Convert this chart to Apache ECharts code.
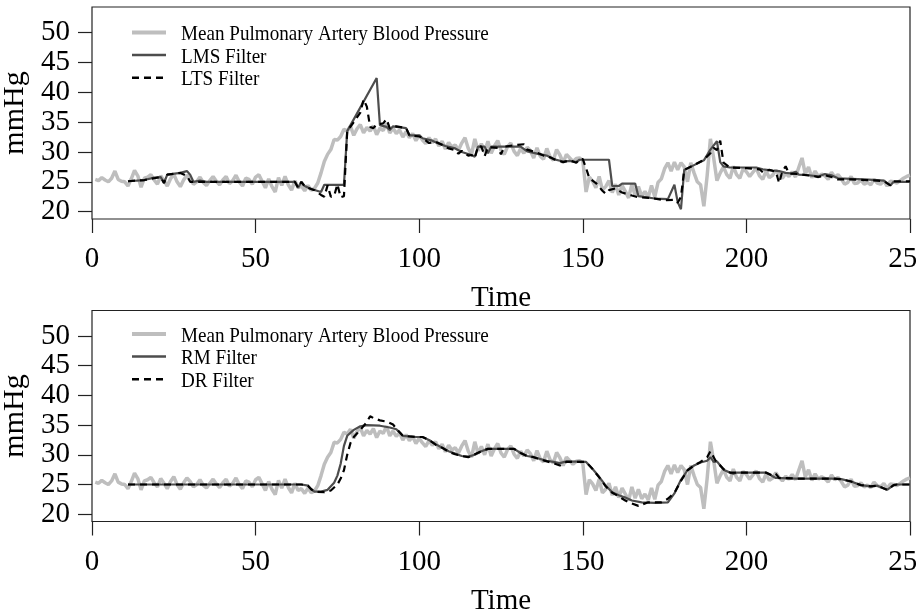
<!DOCTYPE html>
<html>
<head>
<meta charset="utf-8">
<script src="https://cdn.jsdelivr.net/npm/echarts@6/dist/echarts.min.js"></script>
<style>
  html, body { margin: 0; padding: 0; background: #fff; }
  #chart { width: 916px; height: 614px; }
</style>
</head>
<body>
<div id="chart"></div>
<script>
// Mean pulmonary artery blood pressure, one sample per time step (t = 1..250)
const pressure = [
  25.4, 25.2, 25.7, 25.3, 25.0, 25.6, 26.8, 25.4, 25.1, 25.0,
  24.3, 25.5, 26.9, 26.0, 24.1, 25.6, 25.8, 26.2, 25.3, 24.6,
  26.0, 25.2, 24.3, 25.5, 26.3, 25.0, 24.2, 25.3, 26.1, 25.5,
  24.6, 25.0, 25.8, 24.9, 24.4, 25.2, 25.9, 25.1, 24.5, 25.3,
  25.9, 24.7, 25.2, 26.1, 25.0, 24.3, 25.6, 25.4, 24.6, 25.8,
  26.2, 25.1, 24.0, 25.5, 24.2, 23.3, 25.7, 24.4, 25.9, 24.5,
  23.6, 25.2, 24.0, 24.3, 23.5, 24.4, 23.6, 23.9, 24.8, 26.5,
  28.4, 29.6, 30.4, 32.1, 32.0, 32.6, 33.8, 33.5, 34.3, 32.8,
  33.9, 34.6, 33.2, 34.1, 33.5, 34.4, 32.9, 34.0, 33.6, 34.8,
  33.2, 34.0, 33.1, 33.7, 32.5, 33.4, 32.4, 33.1, 31.9, 32.8,
  32.0, 31.4, 32.4, 31.6, 32.2, 31.0, 31.8, 30.5, 31.6, 30.8,
  31.2, 30.3, 31.5, 32.4, 30.6, 29.6, 32.2, 30.2, 31.4, 30.0,
  31.8, 29.8, 31.0, 31.9, 30.3, 29.6, 30.9, 31.5, 30.1, 29.4,
  30.6, 29.8, 30.8, 30.2, 29.0, 30.7, 29.3, 28.8, 30.6, 29.2,
  28.6, 30.4, 29.5, 28.2, 29.6, 29.0, 28.4, 28.9, 29.0, 28.6,
  23.3, 25.8, 25.1, 24.0, 25.9, 23.6, 24.2, 25.2, 23.2, 24.6,
  22.8, 24.4, 23.4, 22.3, 24.6, 22.7, 24.2, 22.6, 23.4, 22.4,
  24.4, 22.5, 24.9, 25.5, 27.2, 28.2, 26.8, 28.3, 27.0, 28.2,
  27.5, 25.0, 28.2, 26.5, 25.0, 24.5, 20.9, 26.0, 32.2, 29.0,
  25.2, 26.5, 27.5, 26.2, 25.6, 27.6, 26.2, 25.6, 27.2, 26.7,
  25.9, 26.6, 27.3, 26.0, 25.4, 26.8, 25.7, 26.1, 27.0, 26.2,
  25.6, 26.4, 25.9, 26.7, 25.8, 27.4, 29.0, 26.3, 27.5, 25.7,
  26.8, 25.9, 26.3, 26.0, 25.4, 26.6, 25.8, 26.2, 25.5, 24.6,
  24.9, 25.9, 24.7, 24.8, 25.3, 24.6, 24.9, 24.5, 25.4, 24.8,
  24.6, 25.2, 24.3, 25.1, 25.0, 24.8, 25.2, 25.6, 25.9, 26.1
];

// Filter outputs as [time, mmHg] vertices
const lmsFilter = [
  [11,25.1],[16,25.3],[19,25.7],[21,25.8],[22,24.8],[23,26.2],[27,26.5],[29,26.8],[30,26.2],[31,25.0],
  [33,25.2],[35,25.0],[62,25.0],[63,24.0],[64,25.0],[65,24.3],[67,23.8],[70,23.3],[71,24.5],[77,24.5],
  [78,33.5],[87,42.4],[88,34.5],[90,34.2],[91,33.7],[92,34.3],[96,34.0],[97,32.8],[100,32.8],[101,32.3],
  [104,31.9],[106,31.4],[108,31.0],[111,30.6],[113,30.0],[116,29.5],[117,29.2],[118,30.9],[120,30.9],[121,29.8],
  [122,30.9],[131,30.9],[133,30.1],[137,29.6],[139,29.4],[141,28.8],[144,28.4],[146,28.5],[148,28.3],[149,28.7],
  [158,28.7],[159,24.3],[161,24.3],[162,24.7],[166,24.7],[167,22.6],[172,22.2],[176,22.1],[178,24.5],[179,21.6],
  [180,20.4],[181,27.0],[184,27.8],[187,28.6],[189,30.4],[191,31.8],[192,28.3],[193,27.6],[195,27.4],[203,27.4],
  [205,27.1],[208,26.9],[210,26.8],[212,26.5],[214,26.4],[215,26.7],[216,26.2],[219,26.1],[222,25.9],[224,26.3],
  [226,26.1],[228,25.6],[232,25.5],[236,25.4],[240,25.3],[242,25.2],[244,24.4],[245,25.0],[250,25.0]
];

const ltsFilter = [
  [11,25.1],[16,25.3],[19,25.6],[21,25.8],[22,24.8],[23,26.2],[27,26.5],[29,26.0],[30,25.0],[62,25.0],
  [63,24.0],[64,25.0],[65,24.2],[68,23.6],[70,22.8],[71,22.5],[72,24.4],[73,22.5],[74,22.6],[75,24.6],
  [76,22.4],[77,22.6],[78,33.5],[80,35.0],[82,36.6],[83,38.8],[84,37.6],[85,34.2],[86,34.0],[87,34.6],
  [89,34.8],[90,35.5],[91,34.0],[93,34.3],[96,34.0],[97,32.8],[100,32.6],[101,32.4],[103,31.5],[105,31.7],
  [107,31.2],[109,30.6],[111,30.3],[112,29.7],[113,30.2],[115,29.4],[116,29.5],[117,29.0],[118,31.0],[119,30.9],
  [120,29.3],[121,30.8],[124,30.7],[125,29.6],[126,30.9],[130,31.2],[132,31.3],[133,30.4],[136,29.9],[138,29.4],
  [140,29.1],[142,28.6],[144,28.3],[146,28.6],[148,28.2],[149,28.8],[150,28.8],[151,27.3],[152,25.6],[154,24.8],
  [156,23.5],[157,23.0],[158,23.6],[160,23.9],[162,23.2],[165,22.7],[167,22.4],[171,22.3],[175,21.9],[178,22.0],
  [179,21.5],[180,22.5],[181,27.0],[184,27.8],[187,28.7],[189,29.8],[190,30.7],[191,30.3],[192,31.9],[193,28.2],
  [194,27.8],[195,27.4],[200,27.3],[204,27.1],[205,26.6],[207,27.0],[209,26.7],[210,24.8],[211,26.8],[212,27.6],
  [213,26.4],[216,26.3],[220,26.0],[222,25.8],[224,26.1],[226,25.8],[228,25.4],[232,25.4],[236,25.3],[240,25.2],
  [242,25.1],[244,24.4],[245,25.1],[250,25.1]
];

const rmFilter = [
  [11,25.0],[64,25.0],[66,24.8],[67,24.2],[68,23.8],[70,23.8],[72,24.1],[74,25.3],[75,26.5],[76,28.5],
  [77,31.5],[78,33.2],[80,34.2],[82,34.8],[84,35.0],[88,34.9],[91,34.6],[93,34.3],[95,33.2],[99,33.0],
  [101,33.0],[103,32.5],[105,31.8],[107,31.2],[109,30.6],[111,30.2],[113,29.8],[115,29.7],[117,30.0],[119,30.6],
  [121,31.0],[129,31.0],[131,30.3],[133,29.8],[135,29.6],[137,29.3],[139,29.0],[141,28.8],[143,28.6],[145,28.9],
  [151,28.8],[153,27.6],[155,26.3],[157,24.8],[159,23.7],[161,23.2],[163,22.8],[165,22.3],[168,22.0],[172,21.9],
  [176,22.0],[178,23.5],[180,25.8],[182,27.4],[184,28.2],[186,28.7],[188,29.0],[189,29.6],[190,28.8],[191,28.9],
  [192,28.2],[193,27.5],[195,27.0],[196,26.8],[197,27.0],[206,27.0],[208,26.4],[209,26.1],[215,26.0],[226,26.0],
  [229,25.9],[232,25.5],[235,24.9],[238,24.7],[240,24.8],[243,24.1],[245,24.9],[246,25.0],[250,25.0]
];

const drFilter = [
  [11,25.0],[64,25.0],[66,24.8],[67,24.2],[68,23.8],[71,23.7],[73,24.0],[75,25.0],[76,26.0],[77,27.4],
  [78,30.0],[79,32.0],[80,33.0],[82,34.2],[84,35.5],[85,36.5],[86,36.2],[88,35.8],[90,35.6],[92,35.1],
  [93,34.4],[95,33.2],[99,33.0],[101,33.0],[103,32.5],[105,31.7],[107,31.2],[109,30.5],[111,30.1],[113,29.8],
  [115,29.6],[117,30.1],[119,30.6],[121,31.0],[129,31.0],[131,30.3],[133,29.8],[135,29.6],[137,29.2],[139,28.9],
  [141,28.6],[143,28.2],[145,28.8],[151,28.8],[153,27.6],[155,26.2],[157,24.7],[159,23.6],[161,23.0],[163,22.3],
  [165,21.8],[167,21.4],[170,22.0],[174,22.0],[176,22.6],[178,23.6],[180,25.6],[182,27.4],[184,28.2],[186,28.8],
  [188,29.6],[189,30.6],[190,29.6],[191,28.6],[192,28.2],[193,27.6],[195,27.0],[197,27.0],[206,27.0],[208,26.5],
  [209,26.8],[210,26.1],[215,26.0],[226,26.0],[229,25.9],[232,25.5],[235,24.9],[238,24.7],[240,24.8],[243,24.1],
  [245,24.9],[246,25.0],[250,25.0]
];

const yTicks = [20, 25, 30, 35, 40, 45, 50];
const xTickStep = 50;
const rawName = 'Mean Pulmonary Artery Blood Pressure';
const topLegend = [rawName, 'LMS Filter', 'LTS Filter'];
const bottomLegend = [rawName, 'RM Filter', 'DR Filter'];

const FONT = 'Liberation Serif';
const INK = '#222';
const rawColor = '#bebebe';
const solidColor = '#4d4d4d';
const dashColor = '#000';
const dashPattern = [7, 5];

const rawPoints = pressure.map((v, i) => [i + 1, v]);

function xAxisFor(idx) {
  return {
    gridIndex: idx, type: 'value', min: 0, max: 250, interval: xTickStep,
    axisLine: { show: false },
    axisTick: { show: true, length: 14, lineStyle: { color: INK, width: 1.2 } },
    axisLabel: { fontFamily: FONT, fontSize: 29, color: '#000', margin: 26, hideOverlap: false },
    splitLine: { show: false },
    name: 'Time', nameLocation: 'middle', nameGap: 65,
    nameTextStyle: { fontFamily: FONT, fontSize: 29, color: '#000' }
  };
}

function yAxisFor(idx) {
  return {
    gridIndex: idx, type: 'value', min: 18.77, max: 54.3,
    axisLine: { show: false },
    axisTick: { show: true, length: 14, customValues: yTicks, lineStyle: { color: INK, width: 1.2 } },
    axisLabel: { fontFamily: FONT, fontSize: 29, color: '#000', margin: 22, customValues: yTicks },
    splitLine: { show: false },
    name: 'mmHg', nameLocation: 'middle', nameRotate: 90, nameGap: 62,
    nameTextStyle: { fontFamily: FONT, fontSize: 30, color: '#000' }
  };
}

// Legend drawn as line samples plus labels, one block per panel
function legendBlock(top, names) {
  const styles = [
    { stroke: rawColor, lineWidth: 4 },
    { stroke: solidColor, lineWidth: 2.5 },
    { stroke: dashColor, lineWidth: 2.5, lineDash: dashPattern }
  ];
  const rowStep = 22.6;
  const els = [];
  names.forEach((name, i) => {
    const y = top + i * rowStep;
    els.push({ type: 'line', shape: { x1: 132, y1: y, x2: 166, y2: y }, style: styles[i], silent: true });
    els.push({
      type: 'text', x: 181, y: y + 2, scaleX: 0.91,
      style: { text: name, fontFamily: FONT, fontSize: 21, fill: '#000', verticalAlign: 'middle', align: 'left' },
      silent: true
    });
  });
  return els;
}

function lineSeries(name, idx, data, color, width, type, z) {
  return {
    name: name, type: 'line', xAxisIndex: idx, yAxisIndex: idx,
    data: data, symbol: 'none', showSymbol: false, animation: false, z: z,
    lineStyle: { color: color, width: width, type: type },
    itemStyle: { color: color }
  };
}

const chart = echarts.init(document.getElementById('chart'), null, { renderer: 'canvas' });
chart.setOption({
  backgroundColor: '#fff',
  animation: false,
  grid: [
    { left: 92, right: 6, top: 7, height: 212, containLabel: false, outerBoundsMode: 'none',
      show: true, borderColor: INK, borderWidth: 1.2, backgroundColor: 'transparent' },
    { left: 92, right: 6, top: 310.5, height: 211, containLabel: false, outerBoundsMode: 'none',
      show: true, borderColor: INK, borderWidth: 1.2, backgroundColor: 'transparent' }
  ],
  xAxis: [xAxisFor(0), xAxisFor(1)],
  yAxis: [yAxisFor(0), yAxisFor(1)],
  graphic: { elements: legendBlock(32.5, topLegend).concat(legendBlock(334, bottomLegend)) },
  series: [
    lineSeries(rawName, 0, rawPoints, rawColor, 3.5, 'solid', 1),
    lineSeries('LMS Filter', 0, lmsFilter, solidColor, 2.2, 'solid', 2),
    lineSeries('LTS Filter', 0, ltsFilter, dashColor, 2.2, dashPattern, 3),
    lineSeries(rawName, 1, rawPoints, rawColor, 3.5, 'solid', 1),
    lineSeries('RM Filter', 1, rmFilter, solidColor, 2.2, 'solid', 2),
    lineSeries('DR Filter', 1, drFilter, dashColor, 2.2, dashPattern, 3)
  ]
});
</script>
</body>
</html>
